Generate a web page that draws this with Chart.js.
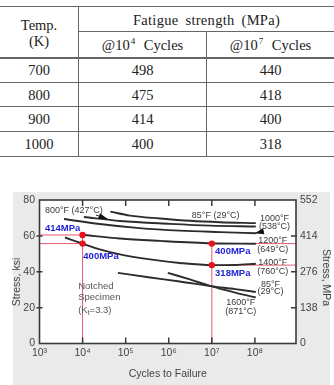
<!DOCTYPE html>
<html><head><meta charset="utf-8">
<script src="https://cdn.jsdelivr.net/npm/chart.js@4.4.1/dist/chart.umd.min.js"></script>
<style>
html,body{margin:0;padding:0;background:#fff;}
body{width:334px;height:385px;position:relative;overflow:hidden;}
#tbl{position:absolute;left:0;top:0;width:334px;height:160px;font-family:"Liberation Serif","Times New Roman",serif;color:#222;font-size:14.5px;}
.ln{position:absolute;background:#666;}
.cell{position:absolute;transform:translate(-50%,-50%);white-space:nowrap;line-height:1;}
.cell sup{font-size:9px;line-height:0;vertical-align:6px;margin-left:1px;}
#bg{position:absolute;left:13px;top:192px;width:317px;height:193px;background:#eaeaea;}
#cv{position:absolute;left:0;top:175px;}
</style></head>
<body>
<div id="tbl"></div>
<div id="bg"></div>
<canvas id="cv" width="334" height="210"></canvas>
<script>
// ---------- table data ----------
const tempsK = [700, 800, 900, 1000];
const fatigueAt1e4 = [498, 475, 414, 400];
const fatigueAt1e7 = [440, 418, 400, 318];

// ---------- chart data (cycles, ksi) ----------
const xTickValues = [1e3, 1e4, 1e5, 1e6, 1e7, 1e8];
const xTickLabels = ['10³', '10⁴', '10⁵', '10⁶', '10⁷', '10⁸'];
const ksiTicks = [0, 20, 40, 60, 80];
const mpaTicks = [0, 138, 276, 414, 552];

const c85_cycles = [4.4e4, 1.26e5, 6.3e5, 3.1e6, 1.55e7, 1.05e8];
const c85_ksi = [73.5, 71.3, 69.7, 68.4, 67.6, 67.1];
const c800_cycles = [1.07e4, 7.4e4, 1.07e6, 9.1e6, 1.05e8];
const c800_ksi = [70.5, 68.3, 66.7, 65.7, 65.2];
const c1000_cycles = [3.7e3, 2.5e4, 2.1e5, 1.8e6, 1.55e7, 1.05e8];
const c1000_ksi = [69.4, 66.6, 64.3, 62.9, 62.1, 61.5];
const c1200_cycles = [1.0e4, 7.4e4, 6.3e5, 1.0e7, 1.05e8];
const c1200_ksi = [60.6, 58.5, 57.2, 55.9, 55.6];
const c1400_cycles = [3.9e3, 1.0e4, 2.5e4, 7.4e4, 3.7e5, 1.8e6, 1.0e7, 3.5e7, 1.05e8];
const c1400_ksi = [59.1, 55.7, 52.5, 49.7, 46.9, 44.9, 43.7, 43.8, 44.5];
const c85n_cycles = [6.6e4, 3.7e5, 1.8e6, 9.5e6, 3.5e7, 1.05e8];
const c85n_ksi = [39.4, 36.8, 34.6, 32.0, 30.3, 28.7];
const c1600_cycles = [9.5e5, 3.1e6, 9.5e6, 3.5e7, 1.05e8];
const c1600_ksi = [39.4, 35.7, 32.0, 28.4, 25.7];

const markCycles = [1e4, 1e4, 1e7, 1e7];
const markKsi = [60.5, 55.7, 55.7, 43.7];

const noteTexts = ['85°F (29°C)', '1000°F', '(538°C)', '1200°F', '(649°C)', '1400°F', '(760°C)', '85°F', '(29°C)', '1600°F', '(871°C)'];
const noteCycles = [1.23e7, 2.85e8, 2.85e8, 2.6e8, 2.6e8, 2.6e8, 2.6e8, 2.3e8, 2.3e8, 4.7e7, 4.7e7];
const noteKsi = [71.2, 69.8, 65.1, 57.6, 52.5, 45.1, 40.3, 32.9, 28.8, 22.6, 17.9];
const leftNoteTexts = ['800°F (427°C)', 'Notched', 'Specimen'];
const leftNoteCycles = [1.34e3, 7.9e3, 7.9e3];
const leftNoteKsi = [74.0, 31.9, 25.7];
const ktCycles = 7.9e3, ktKsi = 18.3;
const blueTexts = ['414MPa', '400MPa', '400MPa', '318MPa'];
const blueCycles = [1.34e3, 1.04e4, 1.19e7, 1.19e7];
const blueKsi = [64.3, 48.4, 51.2, 39.0];
const arrowFromCycles = [2.05e4, 1.62e8];
const arrowFromKsi = [71.6, 62.6];
const arrowToCycles = [3.8e4, 1.0e8];
const arrowToKsi = [69.4, 61.4];

const X_MIN = 1e3, X_MAX = 9e8;

// ---------- table ----------
const tbl = document.getElementById('tbl');
function hline(x, y, w, h) { const d = document.createElement('div'); d.className = 'ln'; Object.assign(d.style, {left: x + 'px', top: y + 'px', width: w + 'px', height: h + 'px'}); tbl.appendChild(d); }
function cell(html, x, y, extra) { const d = document.createElement('div'); d.className = 'cell'; d.innerHTML = html; d.style.left = x + 'px'; d.style.top = y + 'px'; if (extra) Object.assign(d.style, extra); tbl.appendChild(d); }
const rowTop0 = 57.8, rowH = 24.55;
hline(0, 5.8, 334, 1.6);
hline(78.5, 30.5, 255.5, 1);
hline(0, rowTop0 - 0.8, 334, 1.7);
for (let i = 1; i <= tempsK.length; i++) hline(0, rowTop0 + rowH * i - 0.5, 334, i === tempsK.length ? 1.5 : 1);
hline(78, 6.5, 1, rowTop0 + rowH * tempsK.length - 6.5);
hline(206.2, 31, 1, rowTop0 + rowH * tempsK.length - 31);
cell('Temp.', 39, 25);
cell('(K)', 39, 40.5);
cell('Fatigue strength (MPa)', 206.5, 19.5, {wordSpacing: '3px', letterSpacing: '0.3px'});
cell('@10<sup>4</sup> Cycles', 142.5, 45, {wordSpacing: '5px'});
cell('@10<sup>7</sup> Cycles', 270.5, 45, {wordSpacing: '5px'});
tempsK.forEach((t, i) => {
  const cy = rowTop0 + rowH * (i + 0.5);
  cell(String(t), 39, cy);
  cell(String(fatigueAt1e4[i]), 142.5, cy);
  cell(String(fatigueAt1e7[i]), 270.5, cy);
});

// ---------- chart ----------
const SANS = '"Liberation Sans", Arial, Helvetica, sans-serif';
const pts = (xs, ys) => xs.map((x, i) => ({x: x, y: ys[i]}));
const curve = (xs, ys) => ({type: 'line', data: pts(xs, ys), borderColor: '#2c2c2c', borderWidth: 1.9, pointRadius: 0, cubicInterpolationMode: 'monotone', fill: false, yAxisID: 'y'});
const redLine = (xs, ys) => ({type: 'line', data: pts(xs, ys), borderColor: 'rgba(228,70,90,0.9)', borderWidth: 1, pointRadius: 0, tension: 0, fill: false, yAxisID: 'y'});

const datasets = [
  {type: 'scatter', data: pts(markCycles, markKsi), backgroundColor: '#e8121c', borderWidth: 0, pointRadius: 3.2, yAxisID: 'y'},
  curve(c85_cycles, c85_ksi),
  curve(c800_cycles, c800_ksi),
  curve(c1000_cycles, c1000_ksi),
  curve(c1200_cycles, c1200_ksi),
  curve(c1400_cycles, c1400_ksi),
  curve(c85n_cycles, c85n_ksi),
  curve(c1600_cycles, c1600_ksi),
  redLine([X_MIN, markCycles[0]], [markKsi[0], markKsi[0]]),
  redLine([X_MIN, markCycles[1]], [markKsi[1], markKsi[1]]),
  redLine([markCycles[0], markCycles[0]], [0, markKsi[0]]),
  redLine([markCycles[2], markCycles[2]], [0, markKsi[2]]),
  redLine([markCycles[2], X_MAX], [markKsi[2], markKsi[2]]),
  redLine([markCycles[3], X_MAX], [markKsi[3], markKsi[3]])
];

const decor = {
  id: 'decor',
  beforeDraw(ch) {
    const a = ch.chartArea, c = ch.ctx;
    c.save(); c.fillStyle = '#fff'; c.fillRect(a.left, a.top, a.right - a.left, a.bottom - a.top); c.restore();
  },
  afterDatasetsDraw(ch) {
    const c = ch.ctx, a = ch.chartArea, sx = ch.scales.x, sy = ch.scales.y, sy2 = ch.scales.y2;
    const P = (cx, k) => [sx.getPixelForValue(cx), sy.getPixelForValue(k)];
    c.save();
    // inward ticks
    c.strokeStyle = '#3a3a3a'; c.lineWidth = 1.5;
    c.beginPath();
    xTickValues.slice(1).forEach(v => { const x = sx.getPixelForValue(v); c.moveTo(x, a.bottom); c.lineTo(x, a.bottom - 6); c.moveTo(x, a.top); c.lineTo(x, a.top + 6); });
    ksiTicks.slice(1, -1).forEach(v => { const y = sy.getPixelForValue(v); c.moveTo(a.left - 3, y); c.lineTo(a.left + 3, y); });
    mpaTicks.slice(1, -1).forEach(v => { const y = sy2.getPixelForValue(v); c.moveTo(a.right - 5, y); c.lineTo(a.right + 1, y); });
    c.stroke();
    // frame
    c.lineWidth = 1.6; c.strokeRect(a.left, a.top, a.right - a.left, a.bottom - a.top);
    // notes
    c.fillStyle = '#3a3a3a'; c.font = '9px ' + SANS; c.textBaseline = 'middle';
    c.textAlign = 'center';
    noteTexts.forEach((t, i) => { const [x, y] = P(noteCycles[i], noteKsi[i]); c.fillText(t, x, y); });
    c.textAlign = 'left';
    leftNoteTexts.forEach((t, i) => {
      c.font = (i === 0 ? '9px ' : '9.5px ') + SANS; c.fillStyle = i === 0 ? '#3a3a3a' : '#555';
      const [x, y] = P(leftNoteCycles[i], leftNoteKsi[i]); c.fillText(t, x, y);
    });
    // (Kt=3.3)
    {
      let [x, y] = P(ktCycles, ktKsi);
      c.font = '9.5px ' + SANS; c.fillStyle = '#555';
      c.fillText('(K', x, y); x += c.measureText('(K').width;
      c.font = '7px ' + SANS; c.fillText('t', x, y + 2.5); x += c.measureText('t').width;
      c.font = '9.5px ' + SANS; c.fillText('=3.3)', x, y);
    }
    // blue labels
    c.fillStyle = '#2323d6'; c.font = 'bold 9.5px ' + SANS;
    blueTexts.forEach((t, i) => { const [x, y] = P(blueCycles[i], blueKsi[i]); c.fillText(t, x, y); });
    // arrows
    c.strokeStyle = '#222'; c.fillStyle = '#111'; c.lineWidth = 1;
    arrowFromCycles.forEach((_, i) => {
      const [x0, y0] = P(arrowFromCycles[i], arrowFromKsi[i]);
      const [x1, y1] = P(arrowToCycles[i], arrowToKsi[i]);
      const ang = Math.atan2(y1 - y0, x1 - x0), L = 9, W = 3;
      c.beginPath(); c.moveTo(x0, y0); c.lineTo(x1, y1); c.stroke();
      c.beginPath(); c.moveTo(x1, y1);
      c.lineTo(x1 - L * Math.cos(ang) - W * Math.sin(ang), y1 - L * Math.sin(ang) + W * Math.cos(ang));
      c.lineTo(x1 - L * Math.cos(ang) + W * Math.sin(ang), y1 - L * Math.sin(ang) - W * Math.cos(ang));
      c.closePath(); c.fill();
    });
    c.restore();
  }
};

const tickFont = {family: SANS, size: 10.5};
new Chart(document.getElementById('cv'), {
  type: 'line',
  data: {datasets: datasets},
  options: {
    responsive: false, animation: false, events: [],
    layout: {padding: {top: 25, left: 0, right: 0, bottom: 0}},
    plugins: {legend: {display: false}, tooltip: {enabled: false}},
    scales: {
      x: {
        type: 'logarithmic', position: 'bottom', min: X_MIN, max: X_MAX,
        afterBuildTicks: s => { s.ticks = xTickValues.map(v => ({value: v})); },
        afterFit: s => { s.height = 41.5; },
        grid: {display: false, drawTicks: false}, border: {display: false},
        ticks: {autoSkip: false, maxRotation: 0, padding: 3, color: '#444', font: tickFont, callback: (v, i) => xTickLabels[i]},
        title: {display: true, text: 'Cycles to Failure', color: '#444', font: tickFont, padding: {top: 0, bottom: 4.5}}
      },
      y: {
        type: 'linear', position: 'left', min: 0, max: 80,
        afterBuildTicks: s => { s.ticks = ksiTicks.map(v => ({value: v})); },
        afterFit: s => { s.width = 39.5; },
        grid: {display: false, drawTicks: false}, border: {display: false},
        ticks: {padding: 4.5, color: '#444', font: tickFont},
        title: {display: true, text: 'Stress, ksi       ', color: '#444', font: tickFont, padding: {top: 10.4, bottom: 0}}
      },
      y2: {
        type: 'linear', position: 'right', min: 0, max: 552,
        afterBuildTicks: s => { s.ticks = mpaTicks.map(v => ({value: v})); },
        afterFit: s => { s.width = 38; },
        grid: {display: false, drawTicks: false}, border: {display: false},
        ticks: {padding: 4, color: '#444', font: tickFont},
        title: {display: true, text: '    Stress, MPa', color: '#444', font: tickFont, padding: {top: 1.5, bottom: 0}}
      }
    }
  },
  plugins: [decor]
});
</script>
</body></html>
